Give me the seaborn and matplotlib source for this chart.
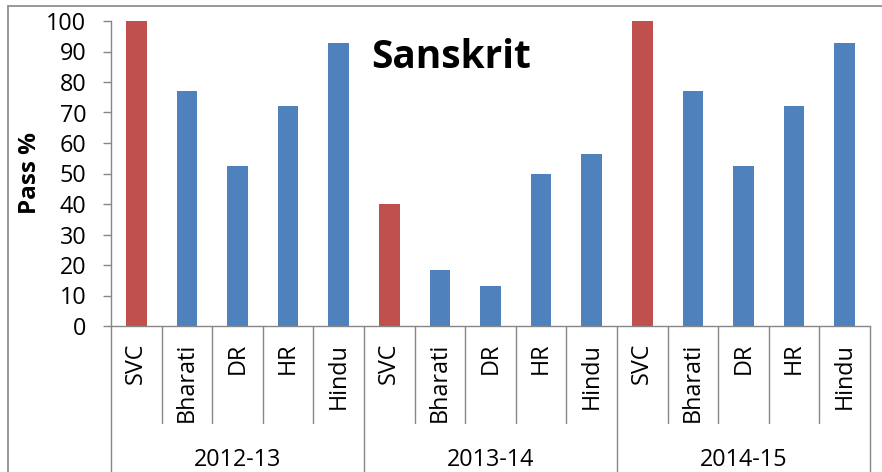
import matplotlib
matplotlib.use("Agg")
import matplotlib.pyplot as plt
import seaborn as sns
import pandas as pd
from matplotlib.lines import Line2D

# ---- data ----
years = ["2012-13", "2013-14", "2014-15"]
colleges = ["SVC", "Bharati", "DR", "HR", "Hindu"]
pass_2012_13 = [100, 76.9, 52.6, 72, 92.9]
pass_2013_14 = [40, 18.2, 13, 50, 56.5]
pass_2014_15 = [100, 76.9, 52.6, 72, 92.9]
yticks = [0, 10, 20, 30, 40, 50, 60, 70, 80, 90, 100]
title = "Sanskrit"
ylabel = "Pass %"

rows = []
for yr, vals in zip(years, [pass_2012_13, pass_2013_14, pass_2014_15]):
    for c, v in zip(colleges, vals):
        rows.append({"key": f"{yr} {c}", "year": yr, "college": c,
                     "value": v, "group": "SVC" if c == "SVC" else "Other"})
df = pd.DataFrame(rows)

sns.set_theme(style="white")
plt.rcParams["font.family"] = ["Open Sans", "DejaVu Sans"]

W, H = 882, 472
fig = plt.figure(figsize=(W / 100, H / 100), dpi=100)
fig.patch.set_facecolor("white")
ax = fig.add_axes([111 / W, (H - 326) / H, (870 - 111) / W, (326 - 21) / H])

sns.barplot(data=df, x="key", y="value", hue="group",
            palette={"SVC": "#C0504D", "Other": "#4F81BD"},
            dodge=False, width=0.41, saturation=1, legend=False,
            linewidth=0, ax=ax)

gray = "#868686"
ax.set_xlim(-0.5, len(df) - 0.5)
ax.set_ylim(0, 100)
ax.set_yticks(yticks)
ax.set_yticklabels([str(t) for t in yticks])
ax.set_xticks(range(len(df)))
ax.set_xticklabels(df["college"], rotation=90)
ax.set_xlabel("")
ax.set_ylabel("")
for s in ["top", "right"]:
    ax.spines[s].set_visible(False)
for s in ["left", "bottom"]:
    ax.spines[s].set_color(gray)
    ax.spines[s].set_linewidth(1.0)
ax.tick_params(axis="y", direction="out", length=5.8, width=1.0, color=gray,
               labelsize=16.8, pad=12, labelcolor="black", left=True)
ax.tick_params(axis="x", length=0, labelsize=16.8, pad=12, labelcolor="black")
ax.grid(False)

# multi-level category separators
trans = ax.get_xaxis_transform()
axh = 326 - 21
for i in range(len(df) + 1):
    x = i - 0.5
    if i % len(colleges) == 0:
        y1 = -(H - 326 + 5) / axh
    else:
        y1 = -(423 - 326) / axh
    ax.add_line(Line2D([x, x], [0, y1], transform=trans, color=gray,
                       lw=1.0, clip_on=False))

for g, yr in enumerate(years):
    xc = g * len(colleges) + (len(colleges) - 1) / 2
    ax.text(xc, -(466 - 326) / axh, yr, transform=trans, ha="center",
            va="baseline", fontsize=16.8, color="black")

fig.text(30 / W, (H - 173) / H, ylabel, rotation=90, ha="center", va="center",
         fontsize=17.5, fontweight="bold", color="black")
fig.text(451 / W, (H - 67.7) / H, title, ha="center", va="baseline",
         fontsize=28, fontweight="bold", color="black")

# chart frame
fig.add_artist(Line2D([8 / W, 8 / W], [0, 1 - 5.5 / H], transform=fig.transFigure,
                      color=gray, lw=1.2))
fig.add_artist(Line2D([8 / W, 1], [1 - 5.5 / H, 1 - 5.5 / H], transform=fig.transFigure,
                      color=gray, lw=1.2))

fig.savefig("out.png", dpi=100)
